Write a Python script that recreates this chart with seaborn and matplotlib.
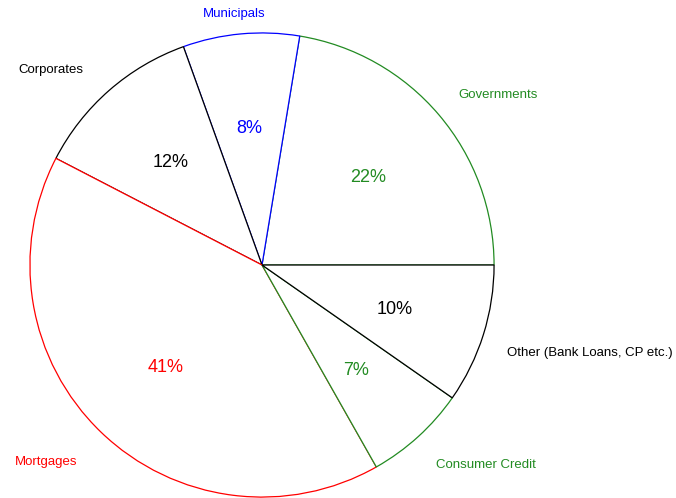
import numpy as np
import matplotlib
matplotlib.use("Agg")
import matplotlib.pyplot as plt
import matplotlib.transforms as mtransforms
import seaborn as sns

# Sectors, counter-clockwise from 3 o'clock
sectors = ["Governments", "Municipals", "Corporates", "Mortgages",
           "Consumer Credit", "Other (Bank Loans, CP etc.)"]
shares = [22.4, 8.1, 11.9, 40.8, 7.1, 9.7]
colors = ["forestgreen", "blue", "black", "red", "forestgreen", "black"]

sns.set_theme(style="white")
plt.rcParams['font.family'] = ['Liberation Sans', 'DejaVu Sans']

fig = plt.figure(figsize=(6.76, 4.98), dpi=100)
ax = fig.add_axes([0, 0, 1, 1])

wedges, texts, autotexts = ax.pie(
    shares, labels=sectors, startangle=0, counterclock=True,
    autopct='%.0f%%', pctdistance=0.6, labeldistance=1.13,
    wedgeprops=dict(facecolor='white', linewidth=0.9),
    textprops=dict(fontsize=9.5))

# per-label tweaks: (distance, horizontal alignment, angle shift)
label_pos = [(1.127, 'left', 1), (1.097, 'center', 1), (1.147, 'right', 0.8),
             (1.155, 'right', 0.3), (1.136, 'left', -0.9), (1.118, 'left', -1.8)]

# nudge all text down a couple of pixels
shift = mtransforms.offset_copy(ax.transData, fig=fig, x=0, y=-2.5, units='dots')

for w, t, at, c, (r, ha, da) in zip(wedges, texts, autotexts, colors, label_pos):
    w.set_edgecolor(c)
    t.set_color(c)
    at.set_color(c)
    at.set_fontsize(13)
    mid = np.deg2rad((w.theta1 + w.theta2) / 2 + da)
    t.set_position((r * np.cos(mid), r * np.sin(mid)))
    t.set_ha(ha)
    t.set_transform(shift)
    at.set_transform(shift)

ax.set_aspect('equal')
ax.set_xlim(-1.129, 1.784)
ax.set_ylim(-1.004, 1.142)
ax.axis('off')

fig.savefig("out.png", dpi=100)
